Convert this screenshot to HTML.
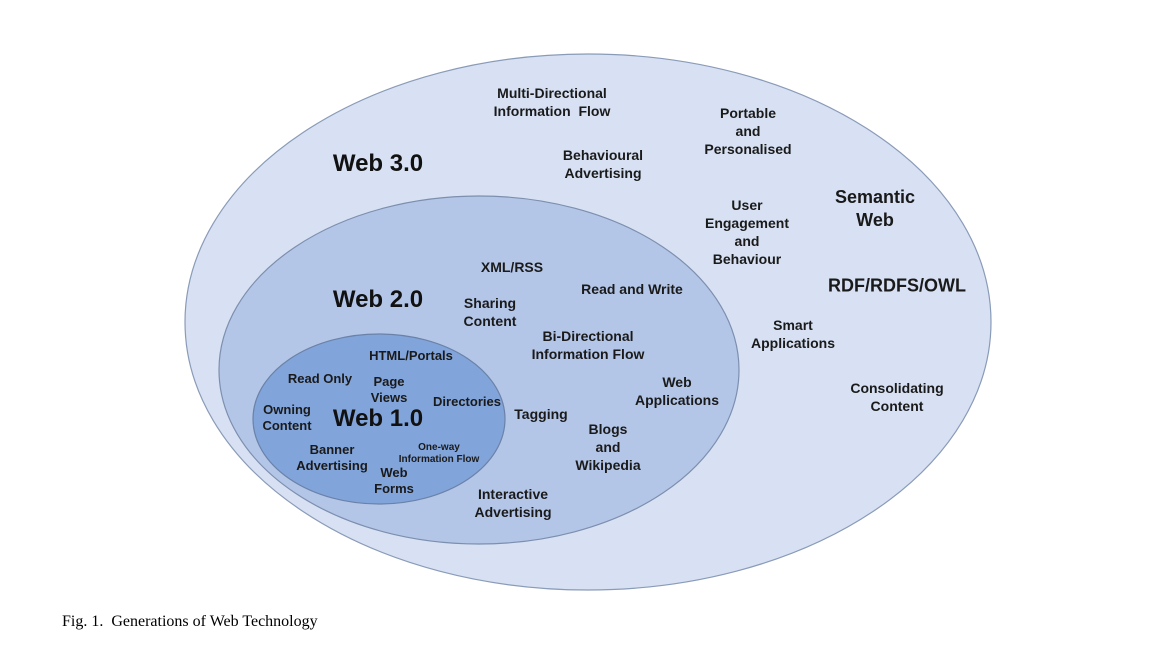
<!DOCTYPE html>
<html><head><meta charset="utf-8"><style>
body{margin:0;width:1162px;height:651px;background:#fff;position:relative;overflow:hidden;font-family:"Liberation Sans",Arial,sans-serif}
.l{position:absolute;transform:translate(-50%,-50%);text-align:center;font-weight:bold;font-size:14px;line-height:18px;color:#1a1a1a;white-space:nowrap}
.s{font-size:13px;line-height:16px}
.b{font-size:24px;line-height:28px;color:#111}
.m{font-size:18px;line-height:23px}
.cap{position:absolute;left:62px;top:613px;font-family:"Liberation Serif",serif;font-size:16px;color:#000}
</style></head><body>
<svg width="1162" height="651" style="position:absolute;left:0;top:0">
<ellipse cx="588" cy="322" rx="403" ry="268" fill="#d7e1f3" stroke="#8a9bb8" stroke-width="1.2"/>
<ellipse cx="479" cy="370" rx="260" ry="174" fill="#b4c6e8" stroke="#7d8fae" stroke-width="1.2"/>
<ellipse cx="379" cy="419" rx="126" ry="85" fill="#81a4da" stroke="#6b82a8" stroke-width="1.2"/>
</svg>
<div class="l" style="left:552px;top:102px">Multi-Directional<br>Information&nbsp; Flow</div>
<div class="l" style="left:748px;top:131px">Portable<br>and<br>Personalised</div>
<div class="l b" style="left:378px;top:164px">Web 3.0</div>
<div class="l" style="left:603px;top:164px">Behavioural<br>Advertising</div>
<div class="l" style="left:747px;top:232px">User<br>Engagement<br>and<br>Behaviour</div>
<div class="l m" style="left:875px;top:209px">Semantic<br>Web</div>
<div class="l" style="left:512px;top:267px">XML/RSS</div>
<div class="l" style="left:632px;top:289px">Read and Write</div>
<div class="l m" style="left:897px;top:286px">RDF/RDFS/OWL</div>
<div class="l b" style="left:378px;top:300px">Web 2.0</div>
<div class="l" style="left:490px;top:312px">Sharing<br>Content</div>
<div class="l" style="left:793px;top:334px">Smart<br>Applications</div>
<div class="l" style="left:588px;top:345px">Bi-Directional<br>Information Flow</div>
<div class="l s" style="left:411px;top:356px">HTML/Portals</div>
<div class="l s" style="left:320px;top:379px">Read Only</div>
<div class="l s" style="left:389px;top:390px">Page<br>Views</div>
<div class="l" style="left:677px;top:391px">Web<br>Applications</div>
<div class="l" style="left:897px;top:397px">Consolidating<br>Content</div>
<div class="l s" style="left:467px;top:402px">Directories</div>
<div class="l s" style="left:287px;top:418px">Owning<br>Content</div>
<div class="l b" style="left:378px;top:419px">Web 1.0</div>
<div class="l" style="left:541px;top:414px">Tagging</div>
<div class="l" style="left:608px;top:447px">Blogs<br>and<br>Wikipedia</div>
<div class="l s" style="left:332px;top:458px">Banner<br>Advertising</div>
<div class="l" style="left:439px;top:454px;font-size:10px;line-height:12px">One-way<br>Information Flow</div>
<div class="l s" style="left:394px;top:481px">Web<br>Forms</div>
<div class="l" style="left:513px;top:503px">Interactive<br>Advertising</div>
<div class="cap">Fig. 1.&nbsp; Generations of Web Technology</div>
</body></html>
